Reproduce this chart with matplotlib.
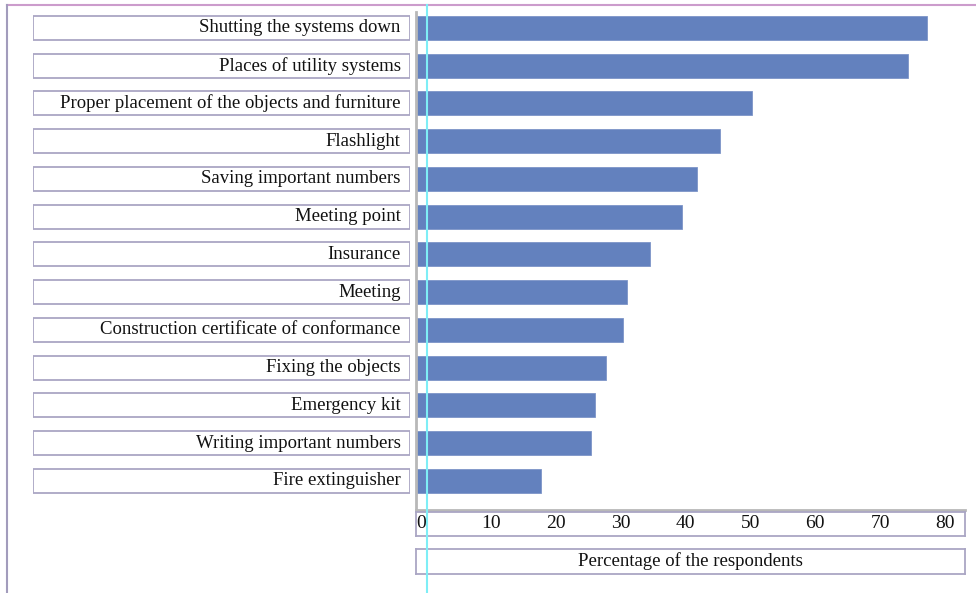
import matplotlib
matplotlib.use("Agg")
import matplotlib.pyplot as plt
from matplotlib.patches import Rectangle
from matplotlib.lines import Line2D

categories = [
    "Shutting the systems down",
    "Places of utility systems",
    "Proper placement of the objects and furniture",
    "Flashlight",
    "Saving important numbers",
    "Meeting point",
    "Insurance",
    "Meeting",
    "Construction certificate of conformance",
    "Fixing the objects",
    "Emergency kit",
    "Writing important numbers",
    "Fire extinguisher",
]
values = [78.7, 75.8, 51.8, 46.8, 43.3, 41.0, 36.1, 32.5, 31.9, 29.3, 27.6, 27.0, 19.3]
ticks = [0, 10, 20, 30, 40, 50, 60, 70, 80]
xlabel = "Percentage of the respondents"

W, H = 976, 593
plt.rcParams['font.family'] = ['Liberation Serif', 'DejaVu Serif']
FS = 13.5
BAR_COLOR = "#6381be"
BOX_EDGE = "#aaa6c4"

fig = plt.figure(figsize=(W / 100, H / 100), dpi=100)
fig.patch.set_facecolor("white")

def fpos(x0, y0, x1, y1):
    return [x0 / W, 1 - y1 / H, (x1 - x0) / W, (y1 - y0) / H]

ylim = (12.77, -0.42)
xmax = 84.6

# main bar axes
ax = fig.add_axes(fpos(416, 12, 965, 510))
y = list(range(len(categories)))
ax.barh(y, values, height=0.64, color=BAR_COLOR, edgecolor="#7d95c8", linewidth=0.6)
ax.set_xlim(0, xmax)
ax.set_ylim(*ylim)
ax.set_xticks([])
ax.set_yticks([])
for s in ["top", "right"]:
    ax.spines[s].set_visible(False)
for s in ["left", "bottom"]:
    ax.spines[s].set_color("#b8b8b8")
    ax.spines[s].set_linewidth(2)

# label boxes axes
lax = fig.add_axes(fpos(33, 12, 410, 510))
lax.set_xlim(0, 1)
lax.set_ylim(*ylim)
lax.axis("off")
for i, c in enumerate(categories):
    lax.add_patch(Rectangle((0, i - 0.32), 1, 0.64, facecolor="white",
                            edgecolor=BOX_EDGE, linewidth=1.3))
    lax.text(0.975, i, c, ha="right", va="center", fontsize=FS, color="#111111")

# tick label box
tax = fig.add_axes(fpos(416, 512, 965, 536))
tax.set_xlim(0, xmax)
tax.set_ylim(0, 1)
tax.set_xticks([])
tax.set_yticks([])
for s in tax.spines.values():
    s.set_color(BOX_EDGE)
    s.set_linewidth(1.3)
for t in ticks:
    tax.text(t, 0.5, str(t), ha="left", va="center", fontsize=14, color="#111111")

# x label box
xax = fig.add_axes(fpos(416, 549, 965, 574))
xax.set_xticks([])
xax.set_yticks([])
for s in xax.spines.values():
    s.set_color(BOX_EDGE)
    s.set_linewidth(1.3)
xax.text(0.5, 0.5, xlabel, ha="center", va="center", fontsize=FS, color="#111111",
         transform=xax.transAxes)

# decorative frame lines
fig.add_artist(Line2D([7 / W, 1], [1 - 5 / H, 1 - 5 / H], color="#cc9ccc", linewidth=1.5))
fig.add_artist(Line2D([7 / W, 7 / W], [0, 1 - 5 / H], color="#a29cbc", linewidth=1.5))
fig.add_artist(Line2D([427 / W, 427 / W], [0, 1 - 5 / H], color="#7eeef6", linewidth=1.5))

fig.savefig("out.png", dpi=100)
